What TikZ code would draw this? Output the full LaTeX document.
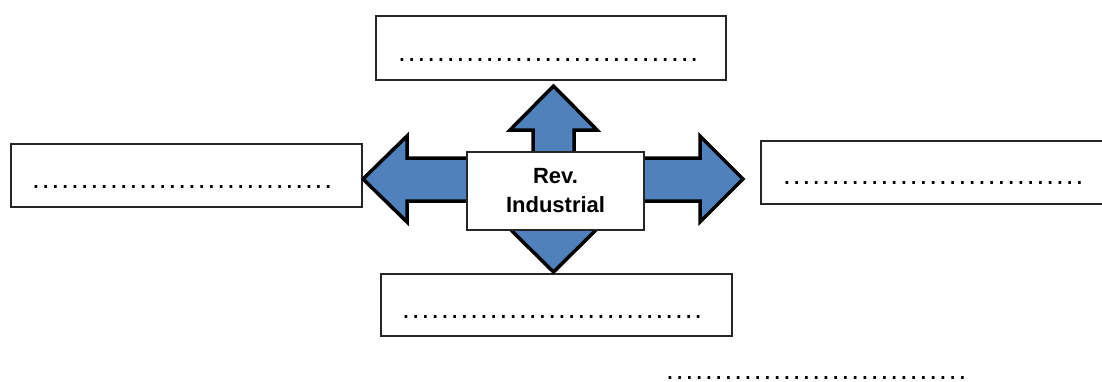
\documentclass[tikz,border=0pt]{standalone}
\usepackage{fontspec}
\setmainfont{Liberation Sans}
\newfontfamily\dotfont[LetterSpace=7.0]{Liberation Sans}
\begin{document}
\begin{tikzpicture}[x=1pt,y=-1pt,
  blank/.style={draw=black!85,line width=2pt,fill=white,inner sep=0pt},
  dots/.style={anchor=base west,inner sep=0pt,font=\dotfont\fontsize{28}{30}\selectfont},
  arrowshape/.style={draw=black,line width=3.5pt,line join=miter,fill=arrowblue},
  hub/.style={draw=black!85,line width=1.5pt,fill=white,inner sep=0pt,
    minimum width=177pt,minimum height=78pt,align=center,
    font=\fontsize{22}{29}\selectfont\bfseries}]
\definecolor{arrowblue}{HTML}{4F81BD}
\useasboundingbox (0,0) rectangle (1102,381);
% boxes
\node[blank,minimum width=350pt,minimum height=64pt] (top) at (551,48) {};
\node[blank,minimum width=351pt,minimum height=63pt] (left) at (186.5,175.5) {};
\node[blank,minimum width=352pt,minimum height=63pt] (right) at (937,172.5) {};
\node[blank,minimum width=351pt,minimum height=62pt] (bottom) at (556.5,305) {};
% arrows
\path[arrowshape] (363,179) -- (407,136) -- (407,158) -- (700,158) -- (700,136)
  -- (743,179) -- (700,222) -- (700,201) -- (407,201) -- (407,222) -- cycle;
\path[arrowshape] (553.5,86) -- (597,130) -- (574,130) -- (574,229) -- (597,229)
  -- (553.5,272) -- (510,229) -- (533,229) -- (533,130) -- (510,130) -- cycle;
% centre
\node[hub] (hubnode) at (555.5,191) {Rev.\\Industrial};
% dotted lines
\node[dots] (d1) at (398,61.5) {...............................};
\node[dots] (d2) at (32,188) {...............................};
\node[dots] (d3) at (783,184.5) {...............................};
\node[dots] (d4) at (402,318.5) {...............................};
\node[dots] (d5) at (666,379.5) {...............................};
\end{tikzpicture}
\end{document}
